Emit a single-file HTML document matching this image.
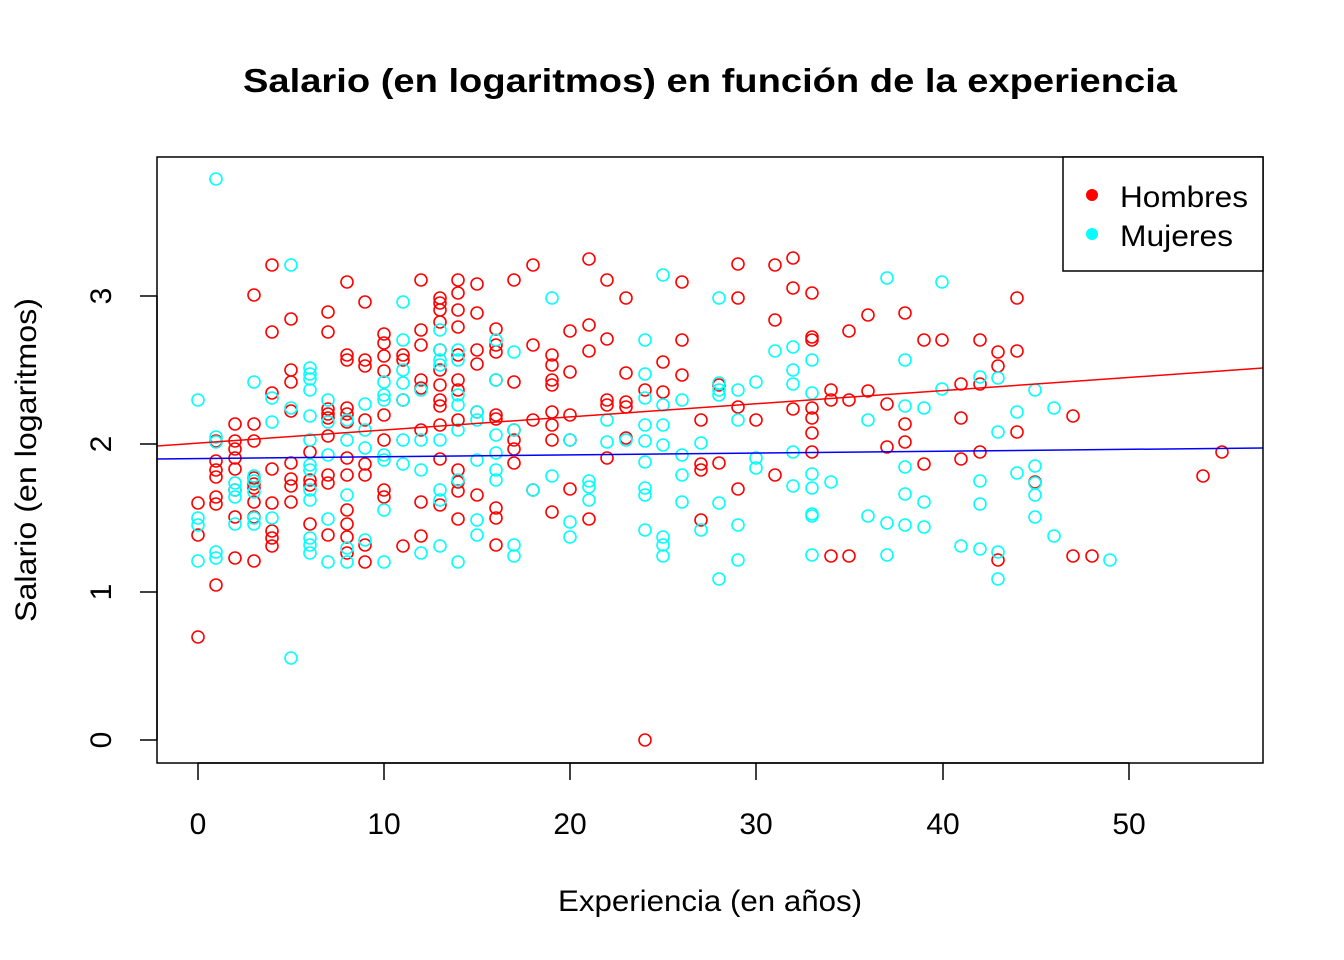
<!DOCTYPE html>
<html><head><meta charset="utf-8"><style>
html,body{margin:0;padding:0;background:#fff;}
svg{display:block;font-family:"Liberation Sans",Arial,sans-serif;}
</style></head><body>
<svg id="s" width="1344" height="960" xmlns="http://www.w3.org/2000/svg">
<rect width="1344" height="960" fill="#fff"/>
<text x="243" y="92" font-size="33" font-weight="bold" textLength="934" lengthAdjust="spacingAndGlyphs">Salario (en logaritmos) en función de la experiencia</text>
<g id="pts" fill="none" stroke-width="1.6"></g>
<line x1="157" y1="446" x2="1263" y2="368" stroke="#f00" stroke-width="1.5"/>
<line x1="157" y1="459" x2="1263" y2="448" stroke="#00f" stroke-width="1.5"/>
<rect x="157" y="157" width="1106" height="606" fill="none" stroke="#000" stroke-width="1.5"/>
<g stroke="#000" stroke-width="1.5">
<line x1="198" y1="763" x2="1129" y2="763"/>
<line x1="198" y1="763" x2="198" y2="780"/><line x1="384" y1="763" x2="384" y2="780"/>
<line x1="570" y1="763" x2="570" y2="780"/><line x1="756" y1="763" x2="756" y2="780"/>
<line x1="943" y1="763" x2="943" y2="780"/><line x1="1129" y1="763" x2="1129" y2="780"/>
<line x1="157" y1="296" x2="157" y2="740"/>
<line x1="140" y1="296" x2="157" y2="296"/><line x1="140" y1="444" x2="157" y2="444"/>
<line x1="140" y1="592" x2="157" y2="592"/><line x1="140" y1="740" x2="157" y2="740"/>
</g>
<g font-size="30" text-anchor="middle">
<text x="198" y="834">0</text><text x="384" y="834">10</text><text x="570" y="834">20</text>
<text x="756" y="834">30</text><text x="943" y="834">40</text><text x="1129" y="834">50</text>
<text x="558" y="911" text-anchor="start" textLength="304" lengthAdjust="spacingAndGlyphs">Experiencia (en años)</text>
<text transform="translate(111,740) rotate(-90)">0</text>
<text transform="translate(111,592) rotate(-90)">1</text>
<text transform="translate(111,444) rotate(-90)">2</text>
<text transform="translate(111,296) rotate(-90)">3</text>
<text transform="translate(36,622) rotate(-90)" text-anchor="start" textLength="324" lengthAdjust="spacingAndGlyphs">Salario (en logaritmos)</text>
</g>
<rect x="1063" y="157" width="200" height="114" fill="#fff" stroke="#000" stroke-width="1.5"/>
<circle cx="1092" cy="195" r="6" fill="#f00"/><circle cx="1092" cy="234" r="6" fill="#0ff"/>
<text x="1120" y="207" font-size="30" textLength="128" lengthAdjust="spacingAndGlyphs">Hombres</text>
<text x="1120" y="246" font-size="30" textLength="113" lengthAdjust="spacingAndGlyphs">Mujeres</text>
</svg>
<script>
var R=[[198,503],[198,535],[198,637],[216,441],[216,461],[216,470],[216,477],[216,497],[216,504],[216,585],[235,424],[235,441],[235,449],[235,458],[235,469],[235,490],[235,517],[235,558],[254,295],[254,424],[254,441],[254,478],[254,484],[254,488],[254,502],[254,517],[254,561],[272,265],[272,332],[272,393],[272,469],[272,503],[272,531],[272,538],[272,546],[291,319],[291,370],[291,382],[291,411],[291,463],[291,479],[291,486],[291,502],[310,452],[310,480],[310,485],[310,524],[328,312],[328,332],[328,409],[328,414],[328,418],[328,436],[328,475],[328,483],[328,535],[347,282],[347,355],[347,360],[347,408],[347,414],[347,422],[347,458],[347,475],[347,510],[347,524],[347,537],[347,553],[365,302],[365,360],[365,366],[365,420],[365,464],[365,475],[365,545],[365,562],[384,334],[384,343],[384,356],[384,371],[384,415],[384,440],[384,490],[384,497],[403,355],[403,360],[403,400],[403,546],[421,280],[421,330],[421,345],[421,380],[421,388],[421,430],[421,502],[421,536],[440,298],[440,303],[440,310],[440,322],[440,350],[440,370],[440,385],[440,400],[440,406],[440,425],[440,459],[440,505],[458,280],[458,293],[458,310],[458,327],[458,355],[458,380],[458,390],[458,420],[458,470],[458,482],[458,491],[458,519],[477,284],[477,313],[477,350],[477,364],[477,412],[477,495],[496,329],[496,345],[496,352],[496,380],[496,415],[496,419],[496,508],[496,518],[496,545],[514,280],[514,382],[514,430],[514,440],[514,449],[514,463],[533,265],[533,345],[533,420],[533,490],[552,355],[552,365],[552,380],[552,385],[552,412],[552,425],[552,440],[552,512],[570,331],[570,372],[570,415],[570,440],[570,489],[589,259],[589,325],[589,351],[589,519],[607,280],[607,339],[607,400],[607,405],[607,458],[626,298],[626,373],[626,402],[626,407],[626,438],[645,390],[645,740],[663,362],[663,392],[682,282],[682,340],[682,375],[701,420],[701,464],[701,470],[701,520],[719,385],[719,463],[738,264],[738,298],[738,407],[738,489],[756,420],[775,265],[775,320],[775,475],[793,258],[793,288],[793,409],[812,293],[812,337],[812,340],[812,408],[812,418],[812,433],[812,452],[831,390],[831,400],[831,556],[849,331],[849,400],[849,556],[868,315],[868,391],[887,404],[887,447],[905,313],[905,424],[905,442],[924,340],[924,464],[942,340],[961,384],[961,418],[961,459],[980,340],[980,384],[980,452],[998,352],[998,366],[998,560],[1017,298],[1017,351],[1017,432],[1035,482],[1073,416],[1073,556],[1092,556],[1203,476],[1222,452]];
var C=[[198,400],[198,518],[198,525],[198,561],[216,179],[216,437],[216,442],[216,552],[216,558],[235,483],[235,490],[235,497],[235,524],[254,382],[254,476],[254,481],[254,492],[254,518],[254,524],[272,398],[272,422],[272,518],[291,265],[291,408],[291,658],[310,368],[310,374],[310,379],[310,390],[310,416],[310,440],[310,465],[310,470],[310,490],[310,500],[310,538],[310,545],[310,553],[328,400],[328,422],[328,455],[328,519],[328,562],[347,420],[347,440],[347,495],[347,548],[347,562],[365,404],[365,430],[365,448],[365,540],[384,382],[384,395],[384,400],[384,455],[384,460],[384,510],[384,562],[403,302],[403,340],[403,370],[403,383],[403,400],[403,440],[403,464],[421,390],[421,440],[421,470],[421,553],[440,330],[440,350],[440,360],[440,365],[440,440],[440,490],[440,500],[440,546],[458,350],[458,360],[458,395],[458,405],[458,430],[458,480],[458,562],[477,412],[477,420],[477,460],[477,520],[477,535],[496,340],[496,380],[496,435],[496,453],[496,470],[496,480],[514,352],[514,430],[514,545],[514,556],[533,490],[552,298],[552,476],[570,440],[570,522],[570,537],[589,481],[589,487],[589,500],[607,420],[607,442],[626,440],[645,340],[645,374],[645,398],[645,425],[645,441],[645,462],[645,488],[645,495],[645,530],[663,275],[663,405],[663,425],[663,445],[663,537],[663,545],[663,556],[682,400],[682,455],[682,475],[682,502],[701,443],[701,530],[719,298],[719,383],[719,390],[719,395],[719,503],[719,579],[738,390],[738,420],[738,525],[738,560],[756,382],[756,458],[756,468],[775,351],[793,347],[793,370],[793,384],[793,452],[793,486],[812,360],[812,393],[812,474],[812,488],[812,514],[812,516],[812,555],[831,482],[868,420],[868,516],[887,278],[887,523],[887,555],[905,360],[905,406],[905,467],[905,494],[905,525],[924,408],[924,502],[924,527],[942,282],[942,389],[961,546],[980,377],[980,481],[980,504],[980,549],[998,378],[998,432],[998,552],[998,579],[1017,412],[1017,473],[1035,390],[1035,466],[1035,483],[1035,495],[1035,517],[1054,408],[1054,536],[1110,560]];
var g=document.getElementById('pts'),h='';
R.forEach(function(p){h+='<circle cx="'+p[0]+'" cy="'+p[1]+'" r="6" stroke="#f00"/>';});
C.forEach(function(p){h+='<circle cx="'+p[0]+'" cy="'+p[1]+'" r="6" stroke="#0ff"/>';});
g.innerHTML=h;
</script>
</body></html>
